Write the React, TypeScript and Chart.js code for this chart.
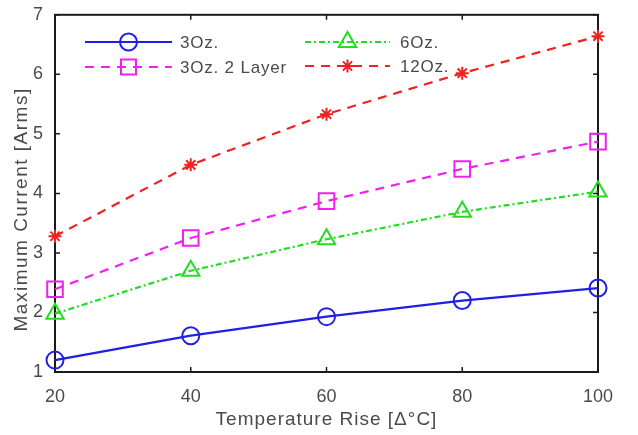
import React, { useEffect, useRef } from "react";
import { Chart, registerables } from "chart.js";

Chart.register(...registerables);

const temps = [20, 40, 60, 80, 100];
const s3oz = [1.2, 1.61, 1.93, 2.2, 2.41];
const s3oz2 = [2.39, 3.25, 3.87, 4.41, 4.87];
const s6oz = [1.98, 2.7, 3.23, 3.69, 4.03];
const s12oz = [3.28, 4.48, 5.33, 6.02, 6.64];
const seriesNames = ["3Oz.", "3Oz. 2 Layer", "6Oz.", "12Oz."];
const xTicks = [20, 40, 60, 80, 100];
const yTicks = [1, 2, 3, 4, 5, 6, 7];
const xTitle = "Temperature Rise [Δ°C]";
const yTitle = "Maximum Current [Arms]";

const FONT = "'Liberation Sans', Arial, sans-serif";
const TXT = "#4a4a4a";

const styles = [
  { color: "#1f1fe6", dash: [] as number[], marker: "circle", r: 8.5 },
  { color: "#f020f0", dash: [9, 7], marker: "rect", r: 8 },
  { color: "#22dd22", dash: [6, 3, 2, 3], marker: "triangle", r: 10 },
  { color: "#ee2222", dash: [9, 7], marker: "star", r: 6.5 },
];

function drawMarker(ctx: CanvasRenderingContext2D, kind: string, x: number, y: number, r: number) {
  ctx.beginPath();
  if (kind === "circle") {
    ctx.arc(x, y, r, 0, Math.PI * 2);
  } else if (kind === "rect") {
    ctx.rect(x - r, y - r, 2 * r, 2 * r);
  } else if (kind === "triangle") {
    ctx.moveTo(x, y - r);
    ctx.lineTo(x + r * 0.87, y + r * 0.5);
    ctx.lineTo(x - r * 0.87, y + r * 0.5);
    ctx.closePath();
  } else {
    for (let i = 0; i < 4; i++) {
      const a = (Math.PI / 4) * i;
      ctx.moveTo(x + Math.cos(a) * r, y + Math.sin(a) * r);
      ctx.lineTo(x - Math.cos(a) * r, y - Math.sin(a) * r);
    }
  }
  ctx.stroke();
}

const framePlugin = {
  id: "frame",
  beforeDatasetsDraw(chart: any) {
    const { ctx, chartArea: a, scales } = chart;
    ctx.save();
    ctx.strokeStyle = "#1a1a1a";
    ctx.lineWidth = 2;
    ctx.setLineDash([]);
    ctx.strokeRect(a.left, a.top, a.right - a.left, a.bottom - a.top);
    ctx.lineWidth = 1.5;
    const tl = 5;
    ctx.beginPath();
    for (const v of xTicks) {
      const px = scales.x.getPixelForValue(v);
      ctx.moveTo(px, a.bottom);
      ctx.lineTo(px, a.bottom - tl);
      ctx.moveTo(px, a.top);
      ctx.lineTo(px, a.top + tl);
    }
    for (const v of yTicks) {
      const py = scales.y.getPixelForValue(v);
      ctx.moveTo(a.left, py);
      ctx.lineTo(a.left + tl, py);
      ctx.moveTo(a.right, py);
      ctx.lineTo(a.right - tl, py);
    }
    ctx.stroke();
    ctx.restore();
  },
  afterDraw(chart: any) {
    const { ctx, chartArea: a } = chart;
    const entries = [
      { i: 0, x0: 85, x1: 172, tx: 180, y: 42 },
      { i: 1, x0: 85, x1: 172, tx: 180, y: 67 },
      { i: 2, x0: 305, x1: 390, tx: 400, y: 42 },
      { i: 3, x0: 305, x1: 390, tx: 400, y: 66 },
    ];
    ctx.save();
    for (const e of entries) {
      const st = styles[e.i];
      ctx.strokeStyle = st.color;
      ctx.lineWidth = 2.2;
      ctx.setLineDash(st.dash);
      ctx.beginPath();
      ctx.moveTo(e.x0, e.y);
      ctx.lineTo(e.x1, e.y);
      ctx.stroke();
      ctx.setLineDash([]);
      ctx.lineWidth = 2;
      drawMarker(ctx, st.marker, (e.x0 + e.x1) / 2, e.y, st.marker === "rect" ? 7.5 : st.r);
      ctx.fillStyle = TXT;
      ctx.font = `17px ${FONT}`;
      (ctx as any).letterSpacing = "0.8px";
      ctx.textBaseline = "middle";
      ctx.textAlign = "left";
      ctx.fillText(seriesNames[e.i], e.tx, e.y + 1);
    }
    // axis titles
    ctx.fillStyle = TXT;
    ctx.textAlign = "center";
    ctx.textBaseline = "middle";
    ctx.font = `19px ${FONT}`;
    (ctx as any).letterSpacing = "1px";
    ctx.fillText(xTitle, (a.left + a.right) / 2, 420);
    ctx.translate(22, (a.top + a.bottom) / 2 + 16);
    ctx.rotate(-Math.PI / 2);
    (ctx as any).letterSpacing = "1.5px";
    ctx.fillText(yTitle, 0, 0);
    ctx.restore();
  },
};

export default function App() {
  const ref = useRef<HTMLCanvasElement | null>(null);
  useEffect(() => {
    document.body.style.margin = "0";
    const series = [s3oz, s3oz2, s6oz, s12oz];
    const chart = new Chart(ref.current as HTMLCanvasElement, {
      type: "line",
      data: {
        datasets: series.map((s, i) => ({
          label: seriesNames[i],
          data: temps.map((t, j) => ({ x: t, y: s[j] })),
          borderColor: styles[i].color,
          backgroundColor: "transparent",
          borderWidth: 2.2,
          borderDash: styles[i].dash,
          pointStyle: styles[i].marker as any,
          pointRadius: styles[i].marker === "rect" ? 11 : styles[i].r,
          pointBorderWidth: 2,
          pointBorderColor: styles[i].color,
          pointBackgroundColor: "rgba(0,0,0,0)",
          tension: 0,
          clip: false as any,
        })),
      },
      options: {
        animation: false,
        responsive: false,
        events: [],
        layout: { padding: { top: 6, right: 40, left: 0, bottom: 0 } },
        plugins: { legend: { display: false }, tooltip: { enabled: false } },
        scales: {
          x: {
            type: "linear",
            min: 20,
            max: 100,
            grid: { display: false },
            border: { display: false },
            afterBuildTicks: (s: any) => {
              s.ticks = xTicks.map((v) => ({ value: v }));
            },
            afterFit: (s: any) => {
              s.height = 63;
            },
            ticks: { color: TXT, font: { family: FONT, size: 18 }, padding: 6, maxRotation: 0 },
            title: { display: false, text: xTitle },
          },
          y: {
            type: "linear",
            min: 1,
            max: 7,
            grid: { display: false },
            border: { display: false },
            afterBuildTicks: (s: any) => {
              s.ticks = yTicks.map((v) => ({ value: v }));
            },
            afterFit: (s: any) => {
              s.width = 55;
            },
            ticks: { color: TXT, font: { family: FONT, size: 18 }, padding: 4 },
            title: { display: false, text: yTitle },
          },
        },
      },
      plugins: [framePlugin],
    } as any);
    return () => chart.destroy();
  }, []);
  return <canvas ref={ref} width={638} height={435} style={{ display: "block" }} />;
}
